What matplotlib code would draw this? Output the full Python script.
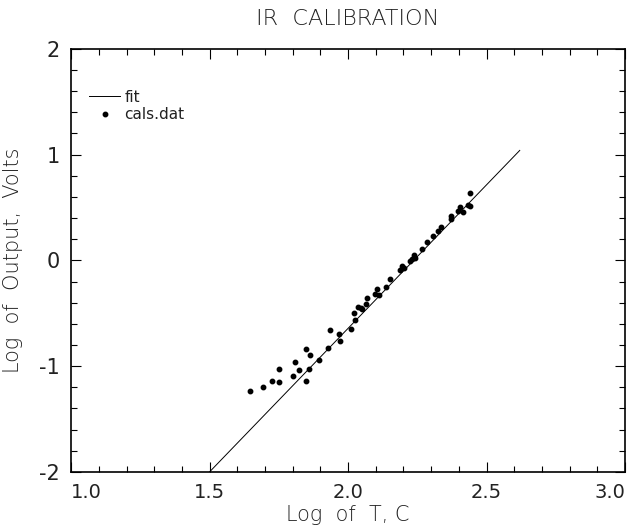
import matplotlib
matplotlib.use('Agg')
import matplotlib.pyplot as plt
from matplotlib.ticker import MultipleLocator

# log T (C) and log output (volts)
log_t = [1.646, 1.692, 1.727, 1.751, 1.752, 1.800, 1.810, 1.823, 1.848, 1.848,
         1.859, 1.862, 1.895, 1.928, 1.935, 1.969, 1.970, 2.010, 2.020, 2.026,
         2.037, 2.047, 2.052, 2.066, 2.069, 2.099, 2.106, 2.113, 2.136, 2.153,
         2.188, 2.195, 2.202, 2.224, 2.231, 2.239, 2.242, 2.267, 2.284, 2.307,
         2.325, 2.335, 2.371, 2.372, 2.397, 2.403, 2.416, 2.433, 2.440, 2.440]
log_v = [-1.239, -1.195, -1.141, -1.154, -1.028, -1.091, -0.959, -1.035, -1.145, -0.836,
         -1.028, -0.899, -0.947, -0.827, -0.663, -0.698, -0.758, -0.651, -0.500, -0.563,
         -0.437, -0.446, -0.456, -0.415, -0.358, -0.321, -0.270, -0.324, -0.255, -0.179,
         -0.091, -0.053, -0.072, -0.003, 0.016, 0.047, 0.022, 0.110, 0.176, 0.230,
         0.274, 0.311, 0.415, 0.393, 0.469, 0.506, 0.462, 0.519, 0.516, 0.638]

# fit line end points
fit_x = [1.5, 2.62]
fit_y = [-2.0, 1.04]

x_ticks = [1.0, 1.5, 2.0, 2.5, 3.0]
y_ticks = [-2, -1, 0, 1, 2]

plt.rcParams['font.family'] = ['DejaVu Sans']

fig = plt.figure(figsize=(6.3, 5.26), dpi=100)
ax = fig.add_axes([0.113, 0.103, 0.879, 0.804])

ax.plot(fit_x, fit_y, color='black', linewidth=0.7, label='fit')
ax.plot(log_t, log_v, linestyle='none', marker='o', markersize=3.2,
        color='black', label='cals.dat')

ax.set_xlim(1.0, 3.0)
ax.set_ylim(-2, 2)
ax.set_xticks(x_ticks)
ax.set_xticklabels(['%.1f' % v for v in x_ticks])
ax.set_yticks(y_ticks)
ax.set_yticklabels([str(v) for v in y_ticks])
ax.xaxis.set_minor_locator(MultipleLocator(0.1))
ax.yaxis.set_minor_locator(MultipleLocator(0.2))
ax.tick_params(which='both', direction='in', top=True, right=True,
               width=0.8, labelcolor='#222222')
ax.tick_params(axis='x', labelsize=14, pad=8)
ax.tick_params(axis='y', labelsize=15, pad=8)
ax.tick_params(which='major', length=7)
ax.tick_params(which='minor', length=4)
for s in ax.spines.values():
    s.set_linewidth(1.2)

# end labels kept inside the frame, as in the original
xl = ax.get_xticklabels()
xl[0].set_horizontalalignment('left')
xl[-1].set_horizontalalignment('right')

ax.set_title('IR  CALIBRATION', fontsize=16, fontweight='light', pad=17, color='#222222')
ax.set_xlabel('Log  of  T, C', fontsize=15, fontweight='light', labelpad=2, color='#222222')
ax.set_ylabel('Log  of  Output,  Volts', fontsize=15, fontweight='light', labelpad=12, color='#222222')

leg = ax.legend(loc='upper left', frameon=False, fontsize=11, handlelength=2.0,
                handletextpad=0.3, borderaxespad=0.6, labelspacing=0.15,
                bbox_to_anchor=(0.005, 0.94))
for t in leg.get_texts():
    t.set_color('#222222')

fig.savefig('out.png', dpi=100)
